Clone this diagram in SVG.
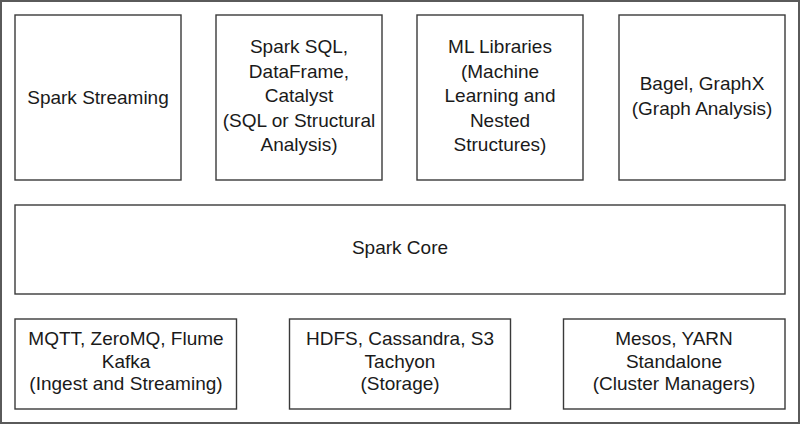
<svg xmlns="http://www.w3.org/2000/svg" width="800" height="424" viewBox="0 0 800 424">
<style>
.frame{fill:#fff;stroke:#5a5a5a;stroke-width:2}
.box{fill:#fff;stroke:#3a3a3a;stroke-width:1.4}
text{font-family:"Liberation Sans",Arial,sans-serif;font-size:19px;fill:#1a1a1a;text-anchor:middle}
</style>
<rect class="frame" x="1" y="1" width="798" height="422"/>
<g id="spark-streaming">
<rect class="box" x="15" y="15" width="166" height="165"/>
<text x="98" y="104">Spark Streaming</text>
</g>
<g id="spark-sql">
<rect class="box" x="216" y="15" width="166" height="165"/>
<text x="299" y="53">Spark SQL,</text>
<text x="299" y="77.5">DataFrame,</text>
<text x="299" y="102">Catalyst</text>
<text x="299" y="126.5">(SQL or Structural</text>
<text x="299" y="151">Analysis)</text>
</g>
<g id="ml-libraries">
<rect class="box" x="417" y="15" width="166" height="165"/>
<text x="500" y="53">ML Libraries</text>
<text x="500" y="77.5">(Machine</text>
<text x="500" y="102">Learning and</text>
<text x="500" y="126.5">Nested</text>
<text x="500" y="151">Structures)</text>
</g>
<g id="graphx">
<rect class="box" x="619" y="15" width="166" height="165"/>
<text x="702" y="90">Bagel, GraphX</text>
<text x="702" y="114.5">(Graph Analysis)</text>
</g>
<g id="spark-core">
<rect class="box" x="15" y="205" width="770" height="89"/>
<text x="400" y="254">Spark Core</text>
</g>
<g id="ingest">
<rect class="box" x="15" y="319" width="221.5" height="90"/>
<text x="126" y="345">MQTT, ZeroMQ, Flume</text>
<text x="126" y="367.5">Kafka</text>
<text x="126" y="390">(Ingest and Streaming)</text>
</g>
<g id="storage">
<rect class="box" x="289.5" y="319" width="221" height="90"/>
<text x="400" y="345">HDFS, Cassandra, S3</text>
<text x="400" y="367.5">Tachyon</text>
<text x="400" y="390">(Storage)</text>
</g>
<g id="cluster-managers">
<rect class="box" x="563.5" y="319" width="221.5" height="90"/>
<text x="674" y="345">Mesos, YARN</text>
<text x="674" y="367.5">Standalone</text>
<text x="674" y="390">(Cluster Managers)</text>
</g>
<g id="connectors"></g>
</svg>
